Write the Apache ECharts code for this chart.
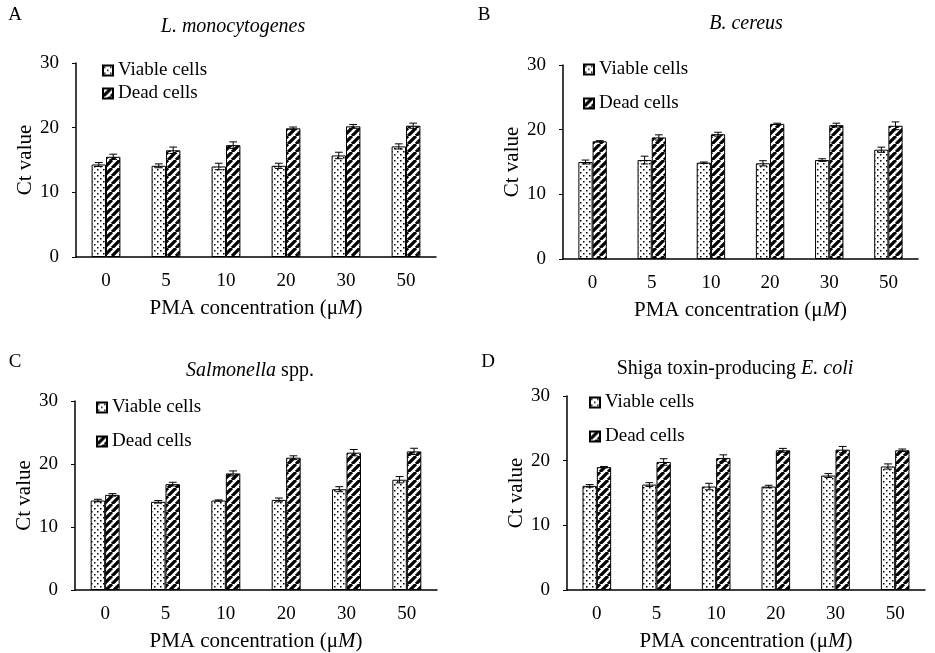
<!DOCTYPE html>
<html>
<head>
<meta charset="utf-8">
<script src="https://cdn.jsdelivr.net/npm/echarts@6/dist/echarts.min.js"></script>
<style>
html, body { margin: 0; padding: 0; background: #fff; }
#main { width: 935px; height: 653px; }
</style>
</head>
<body>
<div id="main"></div>
<script>
var categories = ['0', '5', '10', '20', '30', '50'];

// A - L. monocytogenes
var viableA = [14.3, 14.1, 14.0, 14.1, 15.7, 17.1];
var viableErrA = [0.3, 0.3, 0.5, 0.4, 0.5, 0.4];
var deadA = [15.5, 16.5, 17.3, 19.9, 20.2, 20.3];
var deadErrA = [0.4, 0.5, 0.5, 0.2, 0.3, 0.4];

// B - B. cereus
var viableB = [15.0, 15.3, 14.9, 14.8, 15.3, 16.9];
var viableErrB = [0.3, 0.6, 0.1, 0.4, 0.2, 0.4];
var deadB = [18.2, 18.8, 19.3, 20.9, 20.7, 20.6];
var deadErrB = [0.1, 0.4, 0.3, 0.1, 0.3, 0.6];

// C - Salmonella spp.
var viableC = [14.2, 14.0, 14.2, 14.3, 16.0, 17.5];
var viableErrC = [0.2, 0.2, 0.1, 0.3, 0.4, 0.5];
var deadC = [15.1, 16.8, 18.5, 21.0, 21.8, 22.0];
var deadErrC = [0.2, 0.3, 0.4, 0.3, 0.5, 0.5];

// D - Shiga toxin-producing E. coli
var viableD = [16.1, 16.3, 16.0, 16.0, 17.7, 19.1];
var viableErrD = [0.2, 0.3, 0.5, 0.2, 0.3, 0.4];
var deadD = [19.0, 19.8, 20.4, 21.6, 21.7, 21.6];
var deadErrD = [0.1, 0.5, 0.5, 0.3, 0.5, 0.2];

var FONT = 'Liberation Serif';

// fill patterns
function dotPattern() {
    var c = document.createElement('canvas');
    c.width = 6; c.height = 6;
    var ctx = c.getContext('2d');
    ctx.fillStyle = '#fff';
    ctx.fillRect(0, 0, 6, 6);
    ctx.fillStyle = '#000';
    ctx.fillRect(1, 1, 1.5, 1.5);
    ctx.fillRect(4, 4, 1.5, 1.5);
    return c;
}
function stripePattern() {
    var c = document.createElement('canvas');
    c.width = 8; c.height = 8;
    var ctx = c.getContext('2d');
    ctx.fillStyle = '#fff';
    ctx.fillRect(0, 0, 8, 8);
    ctx.strokeStyle = '#000';
    ctx.lineWidth = 3.2;
    ctx.beginPath();
    [-8, 0, 8].forEach(function (k) {
        ctx.moveTo(k, 8);
        ctx.lineTo(k + 8, 0);
    });
    ctx.stroke();
    return c;
}
var dotFill = { image: dotPattern(), repeat: 'repeat' };
var stripeFill = { image: stripePattern(), repeat: 'repeat' };

var grids = [
    { left: 76, top: 63, width: 360, height: 194 },
    { left: 563, top: 65, width: 355, height: 194 },
    { left: 75, top: 401, width: 362, height: 191 },
    { left: 567, top: 396, width: 358, height: 194 }
];

var panels = [
    [viableA, viableErrA, deadA, deadErrA],
    [viableB, viableErrB, deadB, deadErrB],
    [viableC, viableErrC, deadC, deadErrC],
    [viableD, viableErrD, deadD, deadErrD]
];

function errData(vals, errs) {
    return vals.map(function (v, i) { return [i, v, errs[i]]; });
}

function errRender(offset) {
    return function (params, api) {
        var x = api.value(0), v = api.value(1), e = api.value(2);
        var band = api.size([1, 0])[0];
        var cx = api.coord([x, v])[0] + offset * band;
        var hi = api.coord([x, v + e])[1];
        var lo = api.coord([x, v - e])[1];
        var hw = band * 0.065;
        var st = { stroke: '#000', lineWidth: 1 };
        return {
            type: 'group',
            children: [
                { type: 'line', shape: { x1: cx, y1: hi, x2: cx, y2: lo }, style: st },
                { type: 'line', shape: { x1: cx - hw, y1: hi, x2: cx + hw, y2: hi }, style: st },
                { type: 'line', shape: { x1: cx - hw, y1: lo, x2: cx + hw, y2: lo }, style: st }
            ]
        };
    };
}

var xAxes = [], yAxes = [], series = [];
grids.forEach(function (g, k) {
    xAxes.push({
        type: 'category',
        gridIndex: k,
        data: categories,
        axisLine: { lineStyle: { color: '#000', width: 1.5 } },
        axisTick: { show: false },
        axisLabel: { color: '#000', fontFamily: FONT, fontSize: 19, margin: 15 },
        name: '{n|PMA concentration (μ}{i|M}{n|)}',
        nameLocation: 'middle',
        nameGap: 41,
        nameTextStyle: {
            rich: {
                n: { fontFamily: FONT, fontSize: 21, color: '#000' },
                i: { fontFamily: FONT, fontSize: 21, color: '#000', fontStyle: 'italic' }
            }
        }
    });
    yAxes.push({
        type: 'value',
        gridIndex: k,
        min: 0, max: 30, interval: 10,
        splitLine: { show: false },
        axisLine: { show: true, lineStyle: { color: '#000', width: 1.5 } },
        axisTick: { show: true, length: 4, lineStyle: { color: '#000' } },
        axisLabel: { color: '#000', fontFamily: FONT, fontSize: 19, margin: 17 },
        name: 'Ct value',
        nameLocation: 'middle',
        nameRotate: 90,
        nameGap: 40,
        nameTextStyle: { color: '#000', fontFamily: FONT, fontSize: 21 }
    });
    var p = panels[k];
    series.push({
        name: 'Viable cells', type: 'bar', xAxisIndex: k, yAxisIndex: k,
        data: p[0], barWidth: '24%', barGap: '0%',
        itemStyle: { color: dotFill, borderColor: '#000', borderWidth: 1 }
    });
    series.push({
        name: 'Dead cells', type: 'bar', xAxisIndex: k, yAxisIndex: k,
        data: p[2], barWidth: '24%', barGap: '0%',
        itemStyle: { color: stripeFill, borderColor: '#000', borderWidth: 1 }
    });
    series.push({
        type: 'custom', xAxisIndex: k, yAxisIndex: k, z: 5,
        renderItem: errRender(-0.12), data: errData(p[0], p[1]), silent: true
    });
    series.push({
        type: 'custom', xAxisIndex: k, yAxisIndex: k, z: 5,
        renderItem: errRender(0.12), data: errData(p[2], p[3]), silent: true
    });
});

function legendAt(left, top, gap) {
    return {
        left: left, top: top, orient: 'vertical', itemGap: gap,
        itemWidth: 10, itemHeight: 10, icon: 'rect', padding: 0,
        selectedMode: false,
        textStyle: { color: '#000', fontFamily: FONT, fontSize: 19 },
        data: ['Viable cells', 'Dead cells']
    };
}

function txt(x, y, text, rich, size) {
    return {
        type: 'text', x: x, y: y,
        style: {
            text: text, align: 'center', verticalAlign: 'middle',
            fontFamily: FONT, fontSize: size || 19, fill: '#000',
            rich: rich || {}
        }
    };
}
var it = { i: { fontFamily: FONT, fontSize: 20, fontStyle: 'italic', fill: '#000' }, n: { fontFamily: FONT, fontSize: 20, fill: '#000' } };

var myChart = echarts.init(document.getElementById('main'));
var option = {
    backgroundColor: '#fff',
    animation: false,
    grid: grids,
    xAxis: xAxes,
    yAxis: yAxes,
    legend: [
        legendAt(102, 61, 4),
        legendAt(583, 60, 15),
        legendAt(96, 398, 15),
        legendAt(589, 393, 15)
    ],
    graphic: [
        txt(15, 15, 'A'),
        txt(233, 27, '{i|L. monocytogenes}', it),
        txt(484, 15, 'B'),
        txt(746, 24, '{i|B. cereus}', it),
        txt(15, 362, 'C'),
        txt(250, 371, '{i|Salmonella}{n| spp.}', it),
        txt(488, 362, 'D'),
        txt(735, 369, '{n|Shiga toxin-producing }{i|E. coli}', it)
    ],
    series: series
};
myChart.setOption(option);
</script>
</body>
</html>
